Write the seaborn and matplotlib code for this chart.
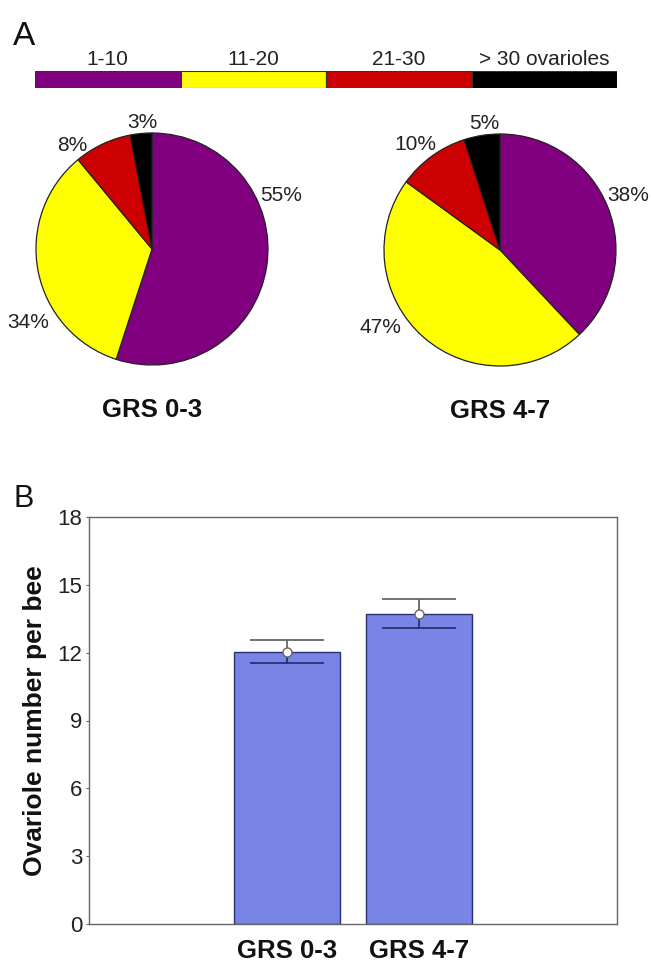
import matplotlib
matplotlib.use('Agg')
import numpy as np
import pandas as pd
import matplotlib.pyplot as plt
import seaborn as sns

# ---- data ----
classes = ["1-10", "11-20", "21-30", "> 30 ovarioles"]
class_colors = ["#800080", "#FFFF00", "#CC0000", "#000000"]

groups = ["GRS 0-3", "GRS 4-7"]
pct_grs03 = [55, 34, 8, 3]
pct_grs47 = [38, 47, 10, 5]

mean_ovarioles = [12.03, 13.72]
upper_ovarioles = [12.57, 14.38]
lower_ovarioles = [11.55, 13.10]

# label placement around pies (angle in deg, radius in pie units) - layout only
lab_pos_03 = [(22.6, 1.21), (210.8, 1.245), (127.6, 1.13), (94.5, 1.09)]
lab_pos_47 = [(23.0, 1.20), (213.0, 1.23), (128.7, 1.16), (97.0, 1.10)]

sns.set_style("white")
plt.rcParams['font.family'] = ['Liberation Sans', 'DejaVu Sans']

W, H = 651, 967
fig = plt.figure(figsize=(W / 100, H / 100), dpi=100)

def px_axes(x0, y0, x1, y1):
    # pixel box (top-left origin) -> figure axes
    return fig.add_axes([x0 / W, 1 - y1 / H, (x1 - x0) / W, (y1 - y0) / H])

# ---- panel letters ----
fig.text(13 / W, 1 - 45 / H, "A", fontsize=24, ha='left', va='baseline', color='#111')
fig.text(13 / W, 1 - 507 / H, "B", fontsize=22, ha='left', va='baseline', color='#111')

# ---- colour key ----
ax_key = px_axes(35, 71, 617, 88)
lefts = np.arange(len(classes))
ax_key.barh([0] * len(classes), [1] * len(classes), left=lefts, height=1.0,
            color=class_colors, edgecolor='#333', linewidth=0.8, align='edge')
ax_key.set_xlim(0, len(classes))
ax_key.set_ylim(0, 1)
ax_key.set_axis_off()
for i, c in enumerate(classes):
    ax_key.text(i + 0.5, 1.1, c, ha='center', va='bottom', fontsize=15, color='#222')

# ---- pies ----
def draw_pie(box, pcts, lab_pos, title, title_xy):
    ax = px_axes(*box)
    ax.pie(pcts, colors=class_colors, startangle=90, counterclock=False,
           wedgeprops=dict(edgecolor='#222', linewidth=0.9))
    ax.set_xlim(-1, 1)
    ax.set_ylim(-1, 1)
    ax.set_aspect('equal')
    for p, (ang, r) in zip(pcts, lab_pos):
        a = np.deg2rad(ang)
        ax.text(r * np.cos(a), r * np.sin(a), f"{p}%", ha='center', va='center',
                fontsize=15, color='#222', clip_on=False)
    fig.text(title_xy[0] / W, 1 - title_xy[1] / H, title, ha='center', va='center',
             fontsize=18.5, fontweight='bold', color='#111')

draw_pie((36, 133, 268, 365), pct_grs03, lab_pos_03, groups[0], (152, 410))
draw_pie((384, 134, 616, 366), pct_grs47, lab_pos_47, groups[1], (500, 411))

# ---- bar chart ----
ax = px_axes(89, 517, 617, 924)
bar_df = pd.DataFrame({"group": groups, "mean": mean_ovarioles})
sns.barplot(data=bar_df, x="group", y="mean", order=groups, color="#7884E6",
            saturation=1, edgecolor='#2B3070', linewidth=1.0, width=0.8,
            errorbar=None, ax=ax)

# error bars: upper half grey, lower half navy (as in the original)
xs = np.arange(len(groups))
means = np.array(mean_ovarioles)
ups = np.array(upper_ovarioles)
lows = np.array(lower_ovarioles)
cap = 0.28
ax.vlines(xs, means, ups, color='#666', linewidth=1.3, zorder=4)
ax.hlines(ups, xs - cap, xs + cap, color='#666', linewidth=1.3, zorder=4)
ax.vlines(xs, lows, means, color='#2B3070', linewidth=1.3, zorder=4)
ax.hlines(lows, xs - cap, xs + cap, color='#2B3070', linewidth=1.3, zorder=4)
ax.plot(xs, means, 'o', markersize=6.5, markerfacecolor='white',
        markeredgecolor='#666', markeredgewidth=1.0, zorder=5, linestyle='none')

ax.set_xlim(-1.5, 2.5)
ax.set_ylim(0, 18)
ax.set_yticks([0, 3, 6, 9, 12, 15, 18])
ax.set_xlabel("")
ax.set_ylabel("Ovariole number per bee", fontsize=19, fontweight='bold', color='#111',
              labelpad=7)
ax.tick_params(axis='y', length=2, width=0.8, color='#666', labelsize=16,
               labelcolor='#222', pad=3, left=True)
ax.tick_params(axis='x', length=0, labelsize=18.5, pad=11, labelcolor='#111')
for lab in ax.get_xticklabels():
    lab.set_fontweight('bold')
for s in ax.spines.values():
    s.set_visible(True)
    s.set_color('#666')
    s.set_linewidth(1.0)

fig.savefig("out.png", dpi=100)
